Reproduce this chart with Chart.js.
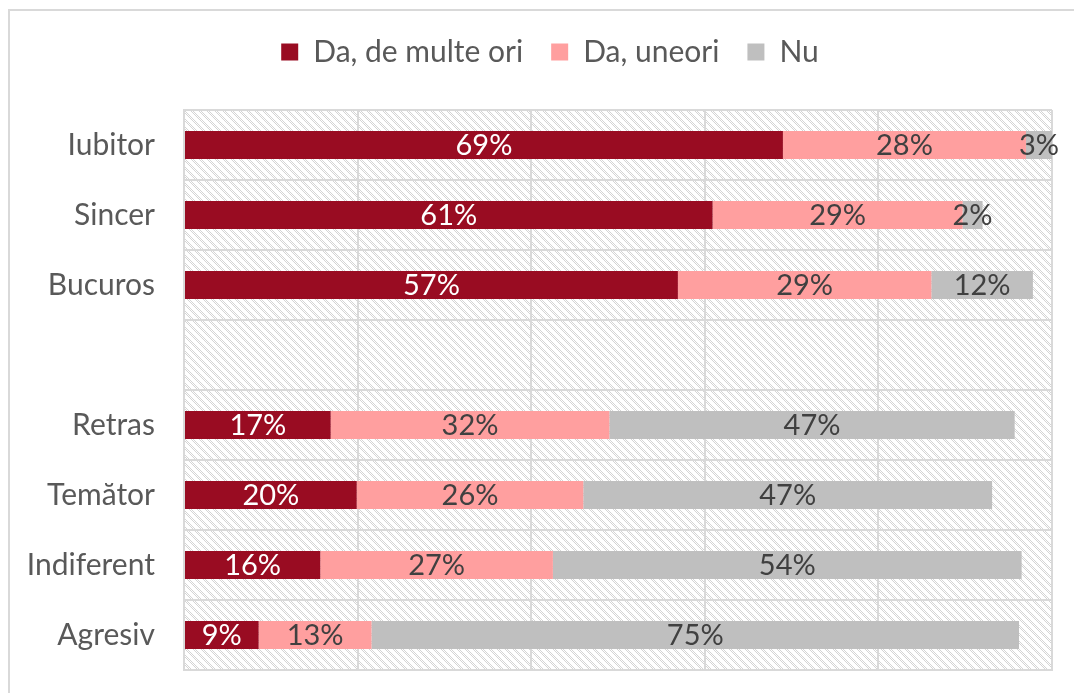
<!DOCTYPE html>
<html>
<head>
<meta charset="utf-8">
<script src="https://cdn.jsdelivr.net/npm/chart.js@4/dist/chart.umd.min.js"></script>
<style>
  html, body { margin: 0; padding: 0; background: #fff; }
  #wrap { width: 1074px; height: 693px; }
</style>
</head>
<body>
<div id="wrap"><canvas id="canvas" width="1074" height="693"></canvas></div>
<script>
// data (bar lengths estimated, labels are the rounded values)
const categories = ['Iubitor', 'Sincer', 'Bucuros', '', 'Retras', 'Temător', 'Indiferent', 'Agresiv'];
const seriesNames = ['Da, de multe ori', 'Da, uneori', 'Nu'];
const multeOri = [69.0, 60.9, 56.9, null, 16.9, 19.9, 15.7, 8.6];
const uneori   = [28.0, 28.8, 29.2, null, 32.1, 26.1, 26.8, 13.0];
const nu       = [3.0, 2.3, 11.7, null, 46.7, 47.1, 54.0, 74.6];

const colors = ['#990c22', '#ff9f9f', '#bfbfbf'];
const labelColors = ['#ffffff', '#404040', '#404040'];
const FONT = 'Lato, "Open Sans", sans-serif';

// diagonal dotted hatch for the plot background
function makeHatch(ctx) {
  const c = document.createElement('canvas');
  c.width = 8; c.height = 8;
  const g = c.getContext('2d');
  g.fillStyle = '#fff';
  g.fillRect(0, 0, 8, 8);
  g.fillStyle = '#d4d4d4';
  for (let y = 0; y < 8; y++) {
    for (let x = 0; x < 8; x++) {
      const d = (x - y + 8) % 8;
      if (d < 3 && (x + y) % 2 === 0) g.fillRect(x, y, 1, 1);
    }
  }
  return ctx.createPattern(c, 'repeat');
}

const hatchPlugin = {
  id: 'hatch',
  beforeLayout(chart) {
    // leave room under the legend like the original
    const lg = chart.legend;
    if (lg && !lg._patched) {
      const fit = lg.fit;
      lg.fit = function () {
        fit.call(this);
        this.height += 33;
      };
      lg._patched = true;
    }
  },
  afterLayout(chart) {
    // legend is centred a bit right of the plot centre
    chart.legend.left = 48;
  },
  beforeDraw(chart) {
    const a = chart.chartArea;
    const ctx = chart.ctx;
    ctx.save();
    ctx.fillStyle = makeHatch(ctx);
    ctx.fillRect(a.left, a.top, a.right - a.left, a.bottom - a.top);
    // outer frame of the chart
    ctx.strokeStyle = '#d9d9d9';
    ctx.lineWidth = 2;
    ctx.strokeRect(9, 10, 1080, 700);
    ctx.restore();
  }
};

const valueLabels = {
  id: 'valueLabels',
  afterDatasetsDraw(chart) {
    const ctx = chart.ctx;
    ctx.save();
    ctx.font = '29px ' + FONT;
    ctx.textAlign = 'center';
    ctx.textBaseline = 'middle';
    chart.data.datasets.forEach((ds, i) => {
      const meta = chart.getDatasetMeta(i);
      meta.data.forEach((bar, j) => {
        const v = ds.data[j];
        if (v == null) return;
        ctx.fillStyle = labelColors[i];
        ctx.fillText(Math.round(v) + '%', (bar.x + bar.base) / 2, bar.y + 1);
      });
    });
    ctx.restore();
  }
};

const data = {
  labels: categories,
  datasets: [multeOri, uneori, nu].map((vals, i) => ({
    label: seriesNames[i],
    data: vals,
    backgroundColor: colors[i],
    borderWidth: 0,
    categoryPercentage: 1,
    barPercentage: 0.4
  }))
};

const config = {
  type: 'bar',
  data: data,
  options: {
    indexAxis: 'y',
    responsive: false,
    animation: false,
    layout: { padding: { top: 9, right: 22, bottom: 23, left: 0 } },
    plugins: {
      legend: {
        position: 'top',
        labels: {
          font: { family: FONT, size: 30 },
          color: '#595959',
          boxWidth: 17,
          boxHeight: 17,
          padding: 28
        }
      },
      tooltip: { enabled: false }
    },
    scales: {
      x: {
        stacked: true,
        min: 0,
        max: 100,
        afterFit(scale) { scale.height = 0; },
        ticks: { display: false, stepSize: 20 },
        grid: { color: '#d9d9d9', lineWidth: 2, drawTicks: false },
        border: { display: true, color: '#d9d9d9', width: 2 }
      },
      y: {
        stacked: true,
        afterFit(scale) {
          scale.width = 184;
          scale.paddingTop = 0;
          scale.paddingBottom = 0;
        },
        ticks: {
          font: { family: FONT, size: 30 },
          color: '#595959',
          padding: 29
        },
        grid: { color: '#d9d9d9', lineWidth: 2, drawTicks: false, offset: true },
        border: { display: true, color: '#d9d9d9', width: 2 }
      }
    }
  },
  plugins: [hatchPlugin, valueLabels]
};

const canvas = document.getElementById('canvas');
const chart = new Chart(canvas, config);
</script>
</body>
</html>
